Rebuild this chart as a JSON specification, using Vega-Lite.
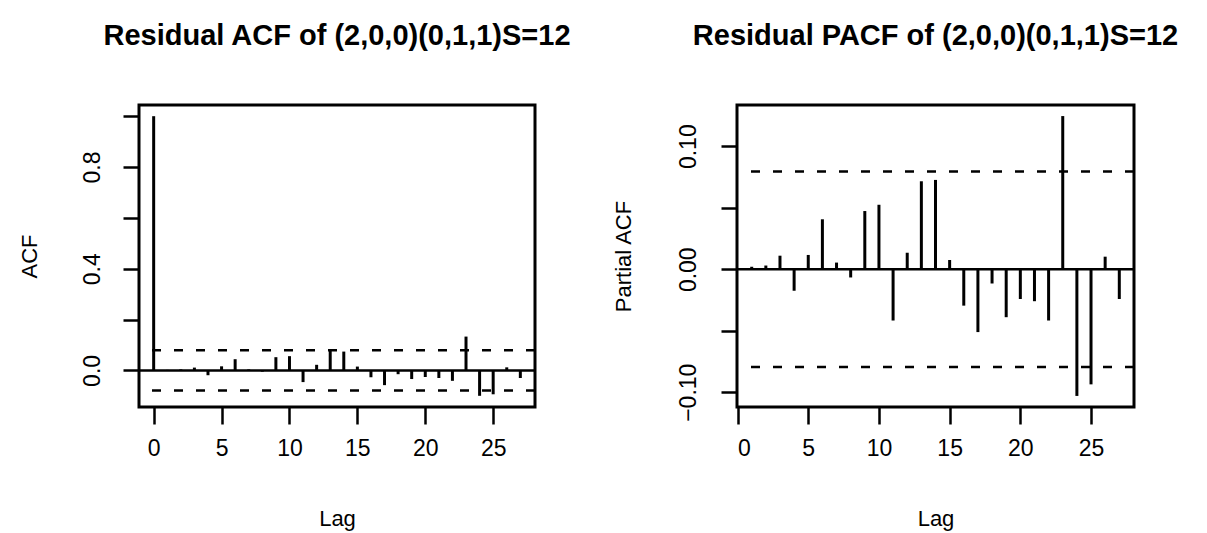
{
  "$schema": "https://vega.github.io/schema/vega-lite/v6.json",
  "background": "white",
  "autosize": {"type": "pad"},
  "padding": {"left": 16, "top": 20, "right": 0, "bottom": 0},
  "datasets": {
    "acf": [
      {"lag": 0, "acf": 1.0}, {"lag": 1, "acf": 0.002}, {"lag": 2, "acf": 0.004}, {"lag": 3, "acf": 0.011},
      {"lag": 4, "acf": -0.019}, {"lag": 5, "acf": 0.016}, {"lag": 6, "acf": 0.044}, {"lag": 7, "acf": 0.004},
      {"lag": 8, "acf": -0.005}, {"lag": 9, "acf": 0.052}, {"lag": 10, "acf": 0.056}, {"lag": 11, "acf": -0.046},
      {"lag": 12, "acf": 0.022}, {"lag": 13, "acf": 0.077}, {"lag": 14, "acf": 0.074}, {"lag": 15, "acf": 0.015},
      {"lag": 16, "acf": -0.027}, {"lag": 17, "acf": -0.058}, {"lag": 18, "acf": -0.015}, {"lag": 19, "acf": -0.034},
      {"lag": 20, "acf": -0.026}, {"lag": 21, "acf": -0.03}, {"lag": 22, "acf": -0.041}, {"lag": 23, "acf": 0.133},
      {"lag": 24, "acf": -0.1}, {"lag": 25, "acf": -0.094}, {"lag": 26, "acf": 0.012}, {"lag": 27, "acf": -0.03}
    ],
    "pacf": [
      {"lag": 1, "pacf": 0.002}, {"lag": 2, "pacf": 0.003}, {"lag": 3, "pacf": 0.011},
      {"lag": 4, "pacf": -0.0175}, {"lag": 5, "pacf": 0.0116}, {"lag": 6, "pacf": 0.0406}, {"lag": 7, "pacf": 0.0054},
      {"lag": 8, "pacf": -0.0067}, {"lag": 9, "pacf": 0.0473}, {"lag": 10, "pacf": 0.0524}, {"lag": 11, "pacf": -0.0417},
      {"lag": 12, "pacf": 0.0134}, {"lag": 13, "pacf": 0.0715}, {"lag": 14, "pacf": 0.0726}, {"lag": 15, "pacf": 0.0075},
      {"lag": 16, "pacf": -0.0296}, {"lag": 17, "pacf": -0.0511}, {"lag": 18, "pacf": -0.0116}, {"lag": 19, "pacf": -0.039},
      {"lag": 20, "pacf": -0.0242}, {"lag": 21, "pacf": -0.026}, {"lag": 22, "pacf": -0.0417}, {"lag": 23, "pacf": 0.1245},
      {"lag": 24, "pacf": -0.103}, {"lag": 25, "pacf": -0.0936}, {"lag": 26, "pacf": 0.0102}, {"lag": 27, "pacf": -0.0242}
    ],
    "ci": [{"ci": 0.0795}, {"ci": -0.0795}]
  },
  "config": {
    "view": {"stroke": "black", "strokeWidth": 3},
    "axis": {
      "domain": false, "grid": false,
      "tickColor": "black", "tickWidth": 2.5,
      "labelFont": "Liberation Sans", "labelFontSize": 23, "labelColor": "black",
      "titleFont": "Liberation Sans", "titleFontSize": 22, "titleFontWeight": "normal", "titleColor": "black"
    },
    "title": {"font": "Liberation Sans", "fontSize": 29, "fontWeight": "bold", "color": "black", "anchor": "middle", "frame": "group", "baseline": "alphabetic", "offset": 54}
  },
  "bounds": "flush",
  "spacing": 202,
  "hconcat": [
    {
      "width": 396, "height": 302,
      "title": {"text": "Residual ACF of (2,0,0)(0,1,1)S=12"},
      "layer": [
        {
          "data": {"name": "acf"},
          "mark": {"type": "rule", "color": "black", "strokeWidth": 3},
          "encoding": {
            "x": {"field": "lag", "type": "quantitative",
                  "scale": {"domain": [-1.08, 28.08], "nice": false, "zero": false},
                  "axis": {"values": [0, 5, 10, 15, 20, 25], "format": "d", "title": "Lag", "tickSize": 17, "labelPadding": 13, "titlePadding": 48, "labelAngle": 0}},
            "y": {"field": "acf", "type": "quantitative",
                  "scale": {"domain": [-0.144, 1.044], "nice": false, "zero": false},
                  "axis": {"values": [0, 0.2, 0.4, 0.6, 0.8, 1.0], "labelExpr": "round(datum.value*10) % 4 == 0 ? format(datum.value, '.1f') : ''",
                           "labelAngle": -90, "labelAlign": "center", "labelBaseline": "bottom", "tickSize": 16, "labelPadding": 19, "title": "ACF", "titlePadding": 40}},
            "y2": {"datum": 0}
          }
        },
        {
          "data": {"values": [{"zero": 0}]},
          "mark": {"type": "rule", "color": "black", "strokeWidth": 2.5},
          "encoding": {"y": {"field": "zero", "type": "quantitative"}}
        },
        {
          "data": {"name": "ci"},
          "mark": {"type": "rule", "color": "black", "strokeWidth": 2.5, "strokeDash": [9, 13]},
          "encoding": {"y": {"field": "ci", "type": "quantitative"}}
        }
      ]
    },
    {
      "width": 397, "height": 302,
      "title": {"text": "Residual PACF of (2,0,0)(0,1,1)S=12"},
      "layer": [
        {
          "data": {"name": "pacf"},
          "mark": {"type": "rule", "color": "black", "strokeWidth": 3},
          "encoding": {
            "x": {"field": "lag", "type": "quantitative",
                  "scale": {"domain": [-0.04, 28.04], "nice": false, "zero": false},
                  "axis": {"values": [0, 5, 10, 15, 20, 25], "format": "d", "title": "Lag", "tickSize": 17, "labelPadding": 13, "titlePadding": 48, "labelAngle": 0}},
            "y": {"field": "pacf", "type": "quantitative",
                  "scale": {"domain": [-0.112, 0.1335], "nice": false, "zero": false},
                  "axis": {"values": [-0.1, -0.05, 0, 0.05, 0.1], "labelExpr": "round(datum.value*100) % 10 == 0 ? format(datum.value, '.2f') : ''",
                           "labelAngle": -90, "labelAlign": "center", "labelBaseline": "bottom", "tickSize": 16, "labelPadding": 21, "title": "Partial ACF", "titlePadding": 42}},
            "y2": {"datum": 0}
          }
        },
        {
          "data": {"values": [{"zero": 0}]},
          "mark": {"type": "rule", "color": "black", "strokeWidth": 2.5},
          "encoding": {"y": {"field": "zero", "type": "quantitative"}}
        },
        {
          "data": {"name": "ci"},
          "mark": {"type": "rule", "color": "black", "strokeWidth": 2.5, "strokeDash": [9, 13]},
          "encoding": {"y": {"field": "ci", "type": "quantitative"}}
        }
      ]
    }
  ]
}
